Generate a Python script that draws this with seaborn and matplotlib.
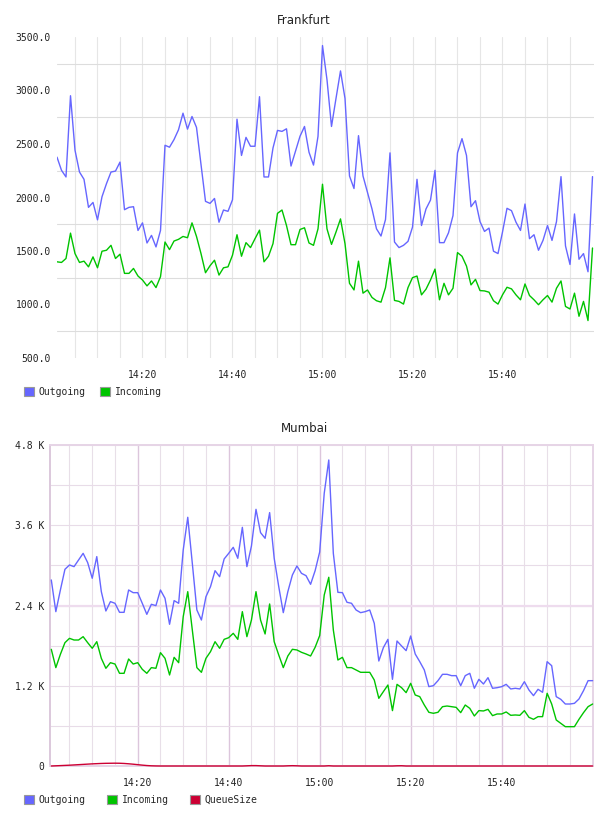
import numpy as np
import pandas as pd
import matplotlib
matplotlib.use("Agg")
import matplotlib.pyplot as plt
import matplotlib.dates as mdates
from matplotlib.ticker import FormatStrFormatter, FixedLocator
from matplotlib.patches import Patch
import seaborn as sns

# data, one point per minute from 14:01 to 16:00
times = pd.date_range("2024-01-01 14:01", periods=120, freq="min")
tick_times = pd.date_range("2024-01-01 14:20", "2024-01-01 15:40", freq="20min")
grid_times = pd.date_range("2024-01-01 14:05", "2024-01-01 15:55", freq="5min")

fra_out = [2377, 2254, 2192, 2951, 2442, 2238, 2170, 1908, 1954, 1791,
           2007, 2130, 2238, 2247, 2331, 1886, 1908, 1914, 1692, 1763,
           1575, 1646, 1538, 1692, 2488, 2470, 2541, 2633, 2788, 2639,
           2757, 2655, 2309, 1964, 1945, 1991, 1769, 1883, 1871, 1979,
           2732, 2393, 2562, 2479, 2479, 2942, 2192, 2192, 2463, 2627,
           2618, 2642, 2294, 2433, 2572, 2664, 2423, 2303, 2572, 3420,
           3100, 2664, 2926, 3183, 2926, 2201, 2084, 2578, 2201, 2047,
           1893, 1707, 1640, 1794, 2417, 1584, 1532, 1553, 1590, 1723,
           2170, 1738, 1893, 1976, 2254, 1578, 1578, 1670, 1831, 2417,
           2550, 2393, 1914, 1970, 1775, 1683, 1714, 1498, 1476, 1677,
           1899, 1877, 1769, 1692, 1939, 1615, 1652, 1507, 1599, 1738,
           1599, 1775, 2195, 1547, 1374, 1846, 1423, 1476, 1306, 2195]

fra_in = [1399, 1393, 1430, 1667, 1476, 1393, 1405, 1352, 1445, 1343,
          1498, 1507, 1553, 1430, 1470, 1291, 1291, 1337, 1266, 1229,
          1174, 1220, 1158, 1260, 1584, 1513, 1593, 1609, 1636, 1624,
          1763, 1636, 1476, 1297, 1362, 1414, 1275, 1343, 1352, 1461,
          1652, 1451, 1578, 1532, 1615, 1695, 1399, 1451, 1569, 1852,
          1883, 1738, 1559, 1559, 1701, 1717, 1575, 1553, 1707, 2124,
          1707, 1562, 1677, 1800, 1569, 1198, 1136, 1405, 1106, 1136,
          1066, 1035, 1022, 1158, 1436, 1038, 1029, 1004, 1158, 1251,
          1266, 1090, 1143, 1229, 1331, 1044, 1198, 1090, 1152, 1485,
          1451, 1359, 1183, 1235, 1130, 1127, 1115, 1035, 1004, 1090,
          1161, 1146, 1090, 1044, 1192, 1084, 1044, 998, 1044, 1084,
          1022, 1152, 1220, 982, 958, 1106, 890, 1029, 850, 1528]

bom_out = [2782, 2308, 2632, 2941, 3006, 2981, 3081, 3180, 3041, 2807,
           3131, 2607, 2318, 2458, 2433, 2298, 2298, 2632, 2592, 2592,
           2433, 2268, 2418, 2398, 2632, 2507, 2119, 2473, 2433, 3230,
           3719, 3031, 2333, 2183, 2532, 2682, 2921, 2831, 3096, 3180,
           3270, 3106, 3569, 2981, 3290, 3838, 3490, 3405, 3789, 3106,
           2682, 2293, 2607, 2856, 2991, 2881, 2846, 2717, 2921, 3200,
           4078, 4576, 3180, 2597, 2592, 2448, 2433, 2333, 2293, 2308,
           2333, 2134, 1570, 1770, 1894, 1296, 1869, 1795, 1725, 1944,
           1675, 1560, 1436, 1187, 1201, 1276, 1371, 1371, 1351, 1351,
           1201, 1351, 1386, 1162, 1296, 1226, 1321, 1162, 1171, 1186,
           1221, 1152, 1162, 1152, 1261, 1137, 1052, 1147, 1102, 1560,
           1500, 1037, 997, 927, 927, 937, 1002, 1127, 1276, 1276]

bom_in = [1745, 1471, 1670, 1844, 1909, 1884, 1884, 1934, 1844, 1760,
          1859, 1610, 1461, 1545, 1525, 1386, 1386, 1600, 1525, 1545,
          1446, 1386, 1471, 1461, 1695, 1610, 1361, 1625, 1545, 2233,
          2607, 2034, 1471, 1401, 1610, 1710, 1859, 1760, 1894, 1919,
          1984, 1894, 2308, 1934, 2183, 2607, 2183, 1974, 2423, 1859,
          1660, 1471, 1645, 1745, 1735, 1700, 1675, 1645, 1775, 1950,
          2557, 2822, 2034, 1585, 1625, 1471, 1471, 1436, 1401, 1401,
          1401, 1286, 1012, 1112, 1211, 828, 1221, 1171, 1097, 1236,
          1062, 1037, 912, 803, 788, 803, 887, 897, 887, 877,
          798, 912, 862, 748, 828, 823, 847, 753, 778, 778,
          808, 758, 763, 758, 828, 728, 698, 738, 738, 1087,
          927, 688, 638, 588, 588, 588, 698, 798, 887, 927]

bom_queue = [0, 3, 6, 9, 12, 16, 20, 24, 28, 32,
             35, 38, 40, 41, 42, 41, 38, 33, 27, 20,
             13, 7, 3, 1, 0, 0, 0, 0, 0, 0,
             0, 0, 0, 0, 0, 0, 0, 0, 0, 0,
             0, 0, 0, 3, 6, 6, 3, 0, 0, 0,
             0, 0, 3, 5, 3, 0, 0, 0, 0, 0,
             0, 4, 0, 0, 0, 0, 0, 0, 0, 0,
             0, 0, 0, 0, 0, 0, 3, 4, 0, 0,
             0, 0, 0, 0, 0, 0, 0, 0, 0, 0,
             0, 0, 0, 0, 0, 0, 0, 0, 0, 0,
             0, 0, 0, 0, 0, 0, 0, 0, 0, 0,
             0, 0, 0, 0, 0, 0, 0, 0, 0, 0]

colors = {"Outgoing": "#6666ff", "Incoming": "#00c400", "QueueSize": "#cc0033"}

sns.set_style("white")
plt.rcParams["font.family"] = ["DejaVu Sans Mono"]
plt.rcParams["font.size"] = 7

fra = pd.DataFrame({"time": np.tile(times, 2),
                    "value": fra_out + fra_in,
                    "series": ["Outgoing"] * 120 + ["Incoming"] * 120})
bom = pd.DataFrame({"time": np.tile(times, 3),
                    "value": bom_out + bom_in + bom_queue,
                    "series": ["Outgoing"] * 120 + ["Incoming"] * 120 + ["QueueSize"] * 120})

W, H = 608, 816
fig = plt.figure(figsize=(W / 100, H / 100), dpi=100)
ax1 = fig.add_axes([57 / W, 1 - 358 / H, (594 - 57) / W, (358 - 37) / H])
ax2 = fig.add_axes([50 / W, 1 - 766 / H, (593 - 50) / W, (766 - 445) / H])

major_x = FixedLocator(mdates.date2num(tick_times))
minor_x = FixedLocator(mdates.date2num(grid_times))

# --- Frankfurt
sns.lineplot(data=fra, x="time", y="value", hue="series", palette=colors,
             ax=ax1, legend=False, linewidth=1.0, zorder=3)
ax1.set_ylim(500, 3500)
ax1.set_xlim(times[0], pd.Timestamp("2024-01-01 16:00:20"))
ax1.set_yticks(np.arange(500, 3501, 500))
ax1.yaxis.set_minor_locator(FixedLocator(np.arange(750, 3500, 500)))
ax1.yaxis.set_major_formatter(FormatStrFormatter("%.1f"))
ax1.xaxis.set_major_locator(major_x)
ax1.xaxis.set_minor_locator(minor_x)
ax1.xaxis.set_major_formatter(mdates.DateFormatter("%H:%M"))
ax1.grid(False)
ax1.grid(which="minor", axis="y", color="#dddddd", lw=0.8)
ax1.grid(which="both", axis="x", color="#e6e6e6", lw=0.8)
for s in ax1.spines.values():
    s.set_visible(False)
ax1.tick_params(which="both", length=0, colors="#222222")
ax1.tick_params(axis="x", pad=8.6)
ax1.tick_params(axis="y", pad=4.3)
ax1.set_xlabel("")
ax1.set_ylabel("")

# --- Mumbai
sns.lineplot(data=bom, x="time", y="value", hue="series", palette=colors,
             ax=ax2, legend=False, linewidth=1.0, zorder=3, clip_on=False)
ax2.set_ylim(0, 4800)
ax2.set_xlim(pd.Timestamp("2024-01-01 14:00:43"), pd.Timestamp("2024-01-01 16:00:05"))
ax2.set_yticks([0, 1200, 2400, 3600, 4800])
ax2.set_yticklabels(["0", "1.2 K", "2.4 K", "3.6 K", "4.8 K"])
ax2.yaxis.set_minor_locator(FixedLocator([600, 1800, 3000, 4200]))
ax2.xaxis.set_major_locator(FixedLocator(mdates.date2num(tick_times)))
ax2.xaxis.set_minor_locator(FixedLocator(mdates.date2num(grid_times)))
ax2.xaxis.set_major_formatter(mdates.DateFormatter("%H:%M"))
ax2.grid(False)
ax2.grid(which="both", axis="y", color="#e8dce8", lw=0.8)
ax2.grid(which="minor", axis="x", color="#e8dfe8", lw=0.8)
ax2.grid(which="major", axis="x", color="#dcc6dc", lw=1.0)
ax2.axhline(2400, color="#eedcee", lw=1.6, zorder=1)
for s in ax2.spines.values():
    s.set_color("#e6d4e6")
    s.set_linewidth(1.4)
ax2.spines["left"].set_color("#dcc8dc")
ax2.tick_params(which="both", length=0, colors="#222222")
ax2.tick_params(axis="x", pad=8.6)
ax2.tick_params(axis="y", pad=4.3)
ax2.set_xlabel("")
ax2.set_ylabel("")

# titles
fig.text(0.5, 1 - 20 / H, "Frankfurt", ha="center", va="center",
         fontsize=8.5, family="DejaVu Sans", color="#222222")
fig.text(0.5, 1 - 429 / H, "Mumbai", ha="center", va="center",
         fontsize=8.5, family="DejaVu Sans", color="#222222")

# legends
def legend(names, y, spacing):
    handles = [Patch(facecolor=colors[n], edgecolor="#999999", lw=0.8) for n in names]
    fig.legend(handles, names, loc="center left", bbox_to_anchor=(24 / W, 1 - y / H),
               ncol=len(names), frameon=False, borderpad=0, borderaxespad=0,
               handlelength=1.0, handleheight=1.0, handletextpad=0.5,
               columnspacing=spacing, fontsize=7)

legend(["Outgoing", "Incoming"], 392, 1.5)
legend(["Outgoing", "Incoming", "QueueSize"], 800, 2.2)

plt.savefig("out.png", dpi=100)
